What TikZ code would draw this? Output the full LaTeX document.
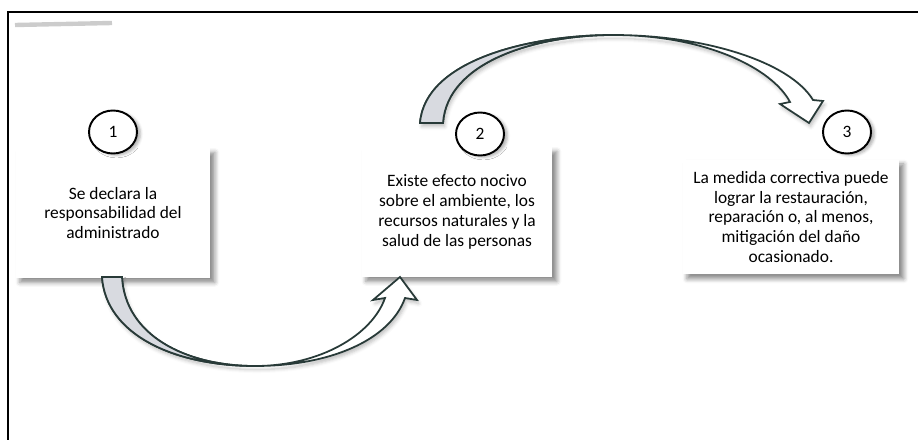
\documentclass[tikz,border=0pt]{standalone}
\usepackage{fontspec}
\setmainfont{Carlito}
\usetikzlibrary{positioning,shapes.geometric,shadows.blur}
\definecolor{rim}{RGB}{40,58,56}
\definecolor{back}{RGB}{216,218,224}

\begin{document}
\begin{tikzpicture}[
			x=0.02cm, y=-0.02cm
			,every node/.append style={font=\fontsize{9.9}{11.3}\selectfont}
			,paso/.style={rectangle, fill=white, align=center, inner sep=3pt,
				blur shadow={shadow xshift=2.5pt, shadow yshift=-2.5pt, shadow blur radius=2.5pt, shadow opacity=45}}
			,num/.style={ellipse, draw, line width=1.1pt, fill=white, inner sep=0pt,
				minimum width=0.96cm, minimum height=0.86cm,
				blur shadow={shadow xshift=2pt, shadow yshift=-1pt, shadow blur radius=1.5pt, shadow opacity=30}}
			,flecha/.style={draw=rim, line width=1pt, fill=white, line join=miter,
				blur shadow={shadow xshift=1pt, shadow yshift=-2pt, shadow blur radius=2pt, shadow opacity=25}}
			,reverso/.style={draw=rim, line width=1pt, fill=back}
		]
			\useasboundingbox (0,0) rectangle (918,439);
			% marco
			\draw[line width=1.1pt] (8,450) -- (8,12) -- (930,12);
			\draw[gray!40, line width=2.5pt] (15,25) -- (112,23);

			% pasos
			\node [paso, minimum width=3.9cm, minimum height=2.6cm] (decl) at (113,213)
				{Se declara la\\responsabilidad del\\administrado};
			\node [paso, minimum width=3.82cm, minimum height=2.6cm] (efecto) at (457,212)
				{Existe efecto nocivo\\sobre el ambiente, los\\recursos naturales y la\\salud de las personas};
			\node [paso, minimum width=4.34cm, minimum height=2.3cm] (medida) at (791,217)
				{La medida correctiva puede\\lograr la restauraci\'on,\\reparaci\'on o, al menos,\\mitigaci\'on del da\~no\\ocasionado.};

			\node [num] (n1) at (113,132) {1};
			\node [num] (n2) at (480,134) {2};
			\node [num] (n3) at (847,132) {3};

			% flecha de abajo: decl -> efecto
			\path[flecha] (102,277) .. controls (106,335) and (175,366) .. (255,366)
				.. controls (320,366) and (372,335) .. (385,298)
				-- (373,300) -- (400,277) -- (417,300) -- (405,298)
				.. controls (390,340) and (330,366) .. (255,366)
				.. controls (185,366) and (125,335) .. (122,277) -- cycle;
			\filldraw[reverso] (102,277) .. controls (106,335) and (175,366) .. (255,366)
				.. controls (185,366) and (125,335) .. (122,277) -- cycle;

			% flecha de arriba: efecto -> medida
			\path[flecha] (420,123) .. controls (425,60) and (530,35) .. (613,35)
				.. controls (705,35) and (772,68) .. (790,102)
				-- (780,104) -- (809,123) -- (823,101) -- (813,100)
				.. controls (790,62) and (705,35) .. (613,35)
				.. controls (535,35) and (447,62) .. (443,123) -- cycle;
			\filldraw[reverso] (420,123) .. controls (425,60) and (530,35) .. (613,35)
				.. controls (535,35) and (447,62) .. (443,123) -- cycle;
		\end{tikzpicture}
\end{document}
